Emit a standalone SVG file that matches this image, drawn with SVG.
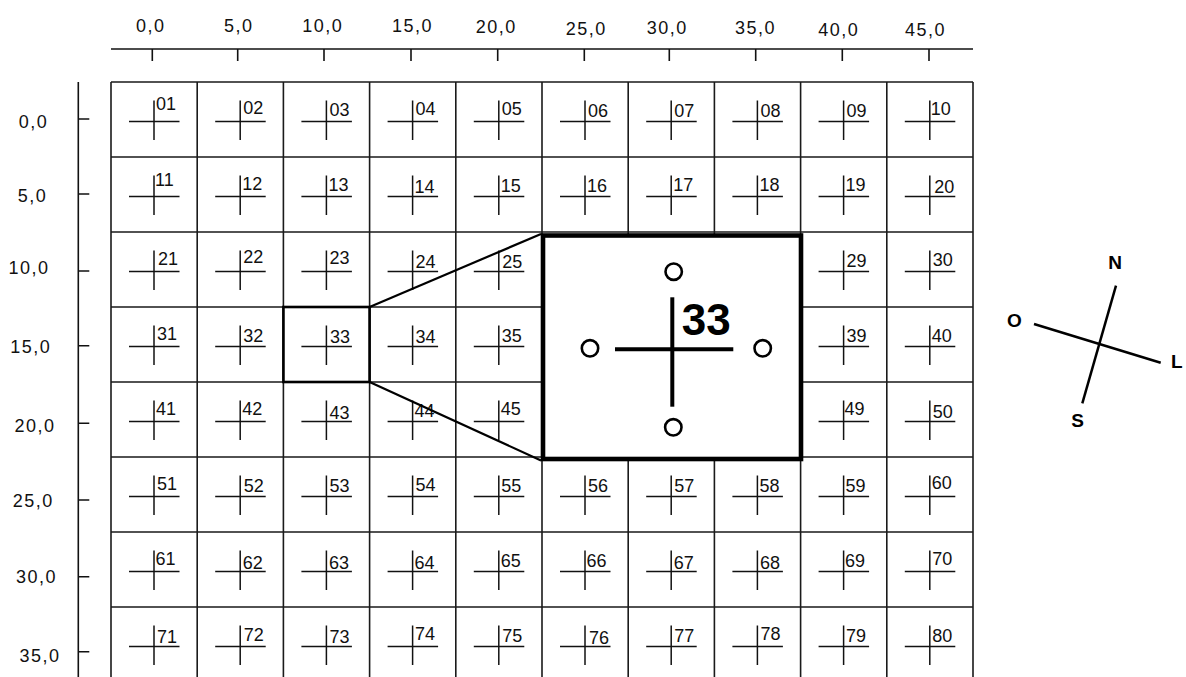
<svg xmlns="http://www.w3.org/2000/svg" xmlns:xlink="http://www.w3.org/1999/xlink" width="1186" height="677" viewBox="0 0 1186 677">
<style>
.ax{stroke:#111;stroke-width:1.6;fill:none}
.grid{stroke:#1a1a1a;stroke-width:1.6;fill:none}
.cr{stroke:#111;stroke-width:1.5}
.lab{font-family:"Liberation Sans",Arial,sans-serif;font-size:18px;fill:#111}
.axl{font-family:"Liberation Sans",Arial,sans-serif;font-size:18px;fill:#111;letter-spacing:1.5px;text-anchor:middle}
.thick{stroke:#000;fill:none}
.cmp{font-family:"Liberation Sans",Arial,sans-serif;font-size:19px;font-weight:bold;fill:#000;text-anchor:middle}
</style>
<defs>
<g id="cross"><line class="cr" x1="18" y1="39.5" x2="68.5" y2="39.5"/><line class="cr" x1="43" y1="18.5" x2="43" y2="58"/></g>
</defs>
<rect width="1186" height="677" fill="#fff"/>
<g id="top-axis">
<line class="ax" x1="111" y1="49" x2="973" y2="49"/>
<path class="ax" d="M152.3 49V61M237.7 49V61M324 49V61M411 49V61M497.7 49V61M584.3 49V61M669.3 49V61M755.7 49V61M842.3 49V61M929 49V61"/>
<text class="axl" x="150.8" y="32.3">0,0</text>
<text class="axl" x="238.8" y="31.7">5,0</text>
<text class="axl" x="322.8" y="31.7">10,0</text>
<text class="axl" x="412.5" y="32.3">15,0</text>
<text class="axl" x="496.3" y="33.3">20,0</text>
<text class="axl" x="586.3" y="35">25,0</text>
<text class="axl" x="667.3" y="34.3">30,0</text>
<text class="axl" x="755.6" y="34.3">35,0</text>
<text class="axl" x="838.8" y="36">40,0</text>
<text class="axl" x="925.5" y="36">45,0</text>
</g>
<g id="left-axis">
<line class="ax" x1="78.3" y1="82" x2="78.3" y2="677"/>
<path class="ax" d="M78.3 119H89.3M78.3 194H89.3M78.3 271H89.3M78.3 345.7H89.3M78.3 423.3H89.3M78.3 500H89.3M78.3 576.7H89.3M78.3 651.7H89.3"/>
<text class="axl" x="33.5" y="128.3">0,0</text>
<text class="axl" x="32.5" y="201.7">5,0</text>
<text class="axl" x="29" y="274">10,0</text>
<text class="axl" x="30.8" y="353.3">15,0</text>
<text class="axl" x="35" y="431.7">20,0</text>
<text class="axl" x="33.3" y="507.3">25,0</text>
<text class="axl" x="36.5" y="583.3">30,0</text>
<text class="axl" x="40" y="661.7">35,0</text>
</g>
<g id="grid">
<path class="grid" d="M111 82H973M111 157H973M111 232H973M111 307H973M111 382H973M111 457H973M111 532H973M111 607H973M111 82V677M197.2 82V677M283.4 82V677M369.6 82V677M455.8 82V677M542 82V677M628.2 82V677M714.4 82V677M800.6 82V677M886.8 82V677M973 82V677"/>
</g>
<g id="cells">
<g id="c01" transform="translate(111,82)"><use href="#cross"/><text class="lab" x="45" y="28.3">01</text></g>
<g id="c02" transform="translate(197.2,82)"><use href="#cross"/><text class="lab" x="46" y="32.3">02</text></g>
<g id="c03" transform="translate(283.4,82)"><use href="#cross"/><text class="lab" x="46" y="34.3">03</text></g>
<g id="c04" transform="translate(369.6,82)"><use href="#cross"/><text class="lab" x="46" y="33.3">04</text></g>
<g id="c05" transform="translate(455.8,82)"><use href="#cross"/><text class="lab" x="46" y="33.3">05</text></g>
<g id="c06" transform="translate(542,82)"><use href="#cross"/><text class="lab" x="46" y="35">06</text></g>
<g id="c07" transform="translate(628.2,82)"><use href="#cross"/><text class="lab" x="46" y="35">07</text></g>
<g id="c08" transform="translate(714.4,82)"><use href="#cross"/><text class="lab" x="46" y="35">08</text></g>
<g id="c09" transform="translate(800.6,82)"><use href="#cross"/><text class="lab" x="46" y="35">09</text></g>
<g id="c10" transform="translate(886.8,82)"><use href="#cross"/><text class="lab" x="44" y="33.3">10</text></g>
<g id="c11" transform="translate(111,157)"><use href="#cross"/><text class="lab" x="44" y="29.3">11</text></g>
<g id="c12" transform="translate(197.2,157)"><use href="#cross"/><text class="lab" x="45" y="33.3">12</text></g>
<g id="c13" transform="translate(283.4,157)"><use href="#cross"/><text class="lab" x="45" y="34.3">13</text></g>
<g id="c14" transform="translate(369.6,157)"><use href="#cross"/><text class="lab" x="45" y="36">14</text></g>
<g id="c15" transform="translate(455.8,157)"><use href="#cross"/><text class="lab" x="45" y="35">15</text></g>
<g id="c16" transform="translate(542,157)"><use href="#cross"/><text class="lab" x="45" y="35">16</text></g>
<g id="c17" transform="translate(628.2,157)"><use href="#cross"/><text class="lab" x="45" y="34.3">17</text></g>
<g id="c18" transform="translate(714.4,157)"><use href="#cross"/><text class="lab" x="45" y="34.3">18</text></g>
<g id="c19" transform="translate(800.6,157)"><use href="#cross"/><text class="lab" x="45" y="34.3">19</text></g>
<g id="c20" transform="translate(886.8,157)"><use href="#cross"/><text class="lab" x="47.5" y="36">20</text></g>
<g id="c21" transform="translate(111,232)"><use href="#cross"/><text class="lab" x="47" y="33.3">21</text></g>
<g id="c22" transform="translate(197.2,232)"><use href="#cross"/><text class="lab" x="46" y="31">22</text></g>
<g id="c23" transform="translate(283.4,232)"><use href="#cross"/><text class="lab" x="46" y="31.7">23</text></g>
<g id="c24" transform="translate(369.6,232)"><use href="#cross"/><text class="lab" x="46" y="36">24</text></g>
<g id="c25" transform="translate(455.8,232)"><use href="#cross"/><text class="lab" x="46.5" y="36">25</text></g>
<g id="c29" transform="translate(800.6,232)"><use href="#cross"/><text class="lab" x="46" y="35">29</text></g>
<g id="c30" transform="translate(886.8,232)"><use href="#cross"/><text class="lab" x="46" y="34.3">30</text></g>
<g id="c31" transform="translate(111,307)"><use href="#cross"/><text class="lab" x="46" y="33">31</text></g>
<g id="c32" transform="translate(197.2,307)"><use href="#cross"/><text class="lab" x="46" y="34.5">32</text></g>
<g id="c33" transform="translate(283.4,307)"><use href="#cross"/><text class="lab" x="46.5" y="36.3">33</text></g>
<g id="c34" transform="translate(369.6,307)"><use href="#cross"/><text class="lab" x="46" y="36.3">34</text></g>
<g id="c35" transform="translate(455.8,307)"><use href="#cross"/><text class="lab" x="46" y="34.7">35</text></g>
<g id="c39" transform="translate(800.6,307)"><use href="#cross"/><text class="lab" x="46" y="35">39</text></g>
<g id="c40" transform="translate(886.8,307)"><use href="#cross"/><text class="lab" x="45" y="35">40</text></g>
<g id="c41" transform="translate(111,382)"><use href="#cross"/><text class="lab" x="45" y="33.3">41</text></g>
<g id="c42" transform="translate(197.2,382)"><use href="#cross"/><text class="lab" x="45" y="33.3">42</text></g>
<g id="c43" transform="translate(283.4,382)"><use href="#cross"/><text class="lab" x="46" y="36.7">43</text></g>
<g id="c44" transform="translate(369.6,382)"><use href="#cross"/><text class="lab" x="45" y="35">44</text></g>
<g id="c45" transform="translate(455.8,382)"><use href="#cross"/><text class="lab" x="45" y="33.3">45</text></g>
<g id="c49" transform="translate(800.6,382)"><use href="#cross"/><text class="lab" x="44" y="33.3">49</text></g>
<g id="c50" transform="translate(886.8,382)"><use href="#cross"/><text class="lab" x="46" y="36">50</text></g>
<g id="c51" transform="translate(111,457)"><use href="#cross"/><text class="lab" x="46" y="33.3">51</text></g>
<g id="c52" transform="translate(197.2,457)"><use href="#cross"/><text class="lab" x="46.5" y="35">52</text></g>
<g id="c53" transform="translate(283.4,457)"><use href="#cross"/><text class="lab" x="46" y="35">53</text></g>
<g id="c54" transform="translate(369.6,457)"><use href="#cross"/><text class="lab" x="46" y="34.3">54</text></g>
<g id="c55" transform="translate(455.8,457)"><use href="#cross"/><text class="lab" x="45.5" y="35">55</text></g>
<g id="c56" transform="translate(542,457)"><use href="#cross"/><text class="lab" x="46" y="35">56</text></g>
<g id="c57" transform="translate(628.2,457)"><use href="#cross"/><text class="lab" x="46" y="35">57</text></g>
<g id="c58" transform="translate(714.4,457)"><use href="#cross"/><text class="lab" x="45" y="35">58</text></g>
<g id="c59" transform="translate(800.6,457)"><use href="#cross"/><text class="lab" x="45" y="35">59</text></g>
<g id="c60" transform="translate(886.8,457)"><use href="#cross"/><text class="lab" x="45" y="31.7">60</text></g>
<g id="c61" transform="translate(111,532)"><use href="#cross"/><text class="lab" x="44.5" y="33.3">61</text></g>
<g id="c62" transform="translate(197.2,532)"><use href="#cross"/><text class="lab" x="45.5" y="36.7">62</text></g>
<g id="c63" transform="translate(283.4,532)"><use href="#cross"/><text class="lab" x="45.5" y="36.7">63</text></g>
<g id="c64" transform="translate(369.6,532)"><use href="#cross"/><text class="lab" x="45" y="36.7">64</text></g>
<g id="c65" transform="translate(455.8,532)"><use href="#cross"/><text class="lab" x="45" y="35">65</text></g>
<g id="c66" transform="translate(542,532)"><use href="#cross"/><text class="lab" x="44.5" y="35">66</text></g>
<g id="c67" transform="translate(628.2,532)"><use href="#cross"/><text class="lab" x="45.5" y="36.7">67</text></g>
<g id="c68" transform="translate(714.4,532)"><use href="#cross"/><text class="lab" x="45.5" y="36.7">68</text></g>
<g id="c69" transform="translate(800.6,532)"><use href="#cross"/><text class="lab" x="44.5" y="35">69</text></g>
<g id="c70" transform="translate(886.8,532)"><use href="#cross"/><text class="lab" x="45.5" y="33.3">70</text></g>
<g id="c71" transform="translate(111,607)"><use href="#cross"/><text class="lab" x="46" y="35.7">71</text></g>
<g id="c72" transform="translate(197.2,607)"><use href="#cross"/><text class="lab" x="46.5" y="34.3">72</text></g>
<g id="c73" transform="translate(283.4,607)"><use href="#cross"/><text class="lab" x="46" y="35.7">73</text></g>
<g id="c74" transform="translate(369.6,607)"><use href="#cross"/><text class="lab" x="45.5" y="33.3">74</text></g>
<g id="c75" transform="translate(455.8,607)"><use href="#cross"/><text class="lab" x="46.5" y="35">75</text></g>
<g id="c76" transform="translate(542,607)"><use href="#cross"/><text class="lab" x="47" y="37.3">76</text></g>
<g id="c77" transform="translate(628.2,607)"><use href="#cross"/><text class="lab" x="46" y="35">77</text></g>
<g id="c78" transform="translate(714.4,607)"><use href="#cross"/><text class="lab" x="46" y="33.3">78</text></g>
<g id="c79" transform="translate(800.6,607)"><use href="#cross"/><text class="lab" x="45.5" y="35">79</text></g>
<g id="c80" transform="translate(886.8,607)"><use href="#cross"/><text class="lab" x="45.5" y="35">80</text></g>
</g>
<g id="connectors">
<rect class="thick" x="283.4" y="307" width="86.2" height="75" stroke-width="2.6"/>
<line class="thick" x1="369.6" y1="307" x2="541" y2="234" stroke-width="2.2"/>
<line class="thick" x1="369.6" y1="382" x2="541" y2="460.5" stroke-width="2.2"/>
</g>
<g id="zoom-detail">
<rect x="543" y="235.5" width="258" height="223.5" fill="#fff" stroke="#000" stroke-width="4.6"/>
<line x1="615" y1="349.3" x2="733.3" y2="349.3" stroke="#000" stroke-width="4"/>
<line x1="672.3" y1="297.3" x2="672.3" y2="406.7" stroke="#000" stroke-width="4"/>
<g fill="none" stroke="#000" stroke-width="2.6">
<circle cx="673.7" cy="271.7" r="8.2"/>
<circle cx="590" cy="348.3" r="8.2"/>
<circle cx="762.7" cy="348.3" r="8.2"/>
<circle cx="673.3" cy="427.3" r="8.2"/>
</g>
<text x="681.8" y="335" font-family="'Liberation Sans',Arial,sans-serif" font-size="44" font-weight="bold" fill="#000">33</text>
</g>
<g id="compass">
<line x1="1116" y1="285.7" x2="1082.3" y2="403.3" stroke="#000" stroke-width="2.5"/>
<line x1="1034" y1="324" x2="1160.7" y2="362.7" stroke="#000" stroke-width="2.5"/>
<text class="cmp" x="1115" y="269.3">N</text>
<text class="cmp" x="1014.5" y="327.3">O</text>
<text class="cmp" x="1176.7" y="368.3">L</text>
<text class="cmp" x="1077.5" y="426.7">S</text>
</g>
</svg>
